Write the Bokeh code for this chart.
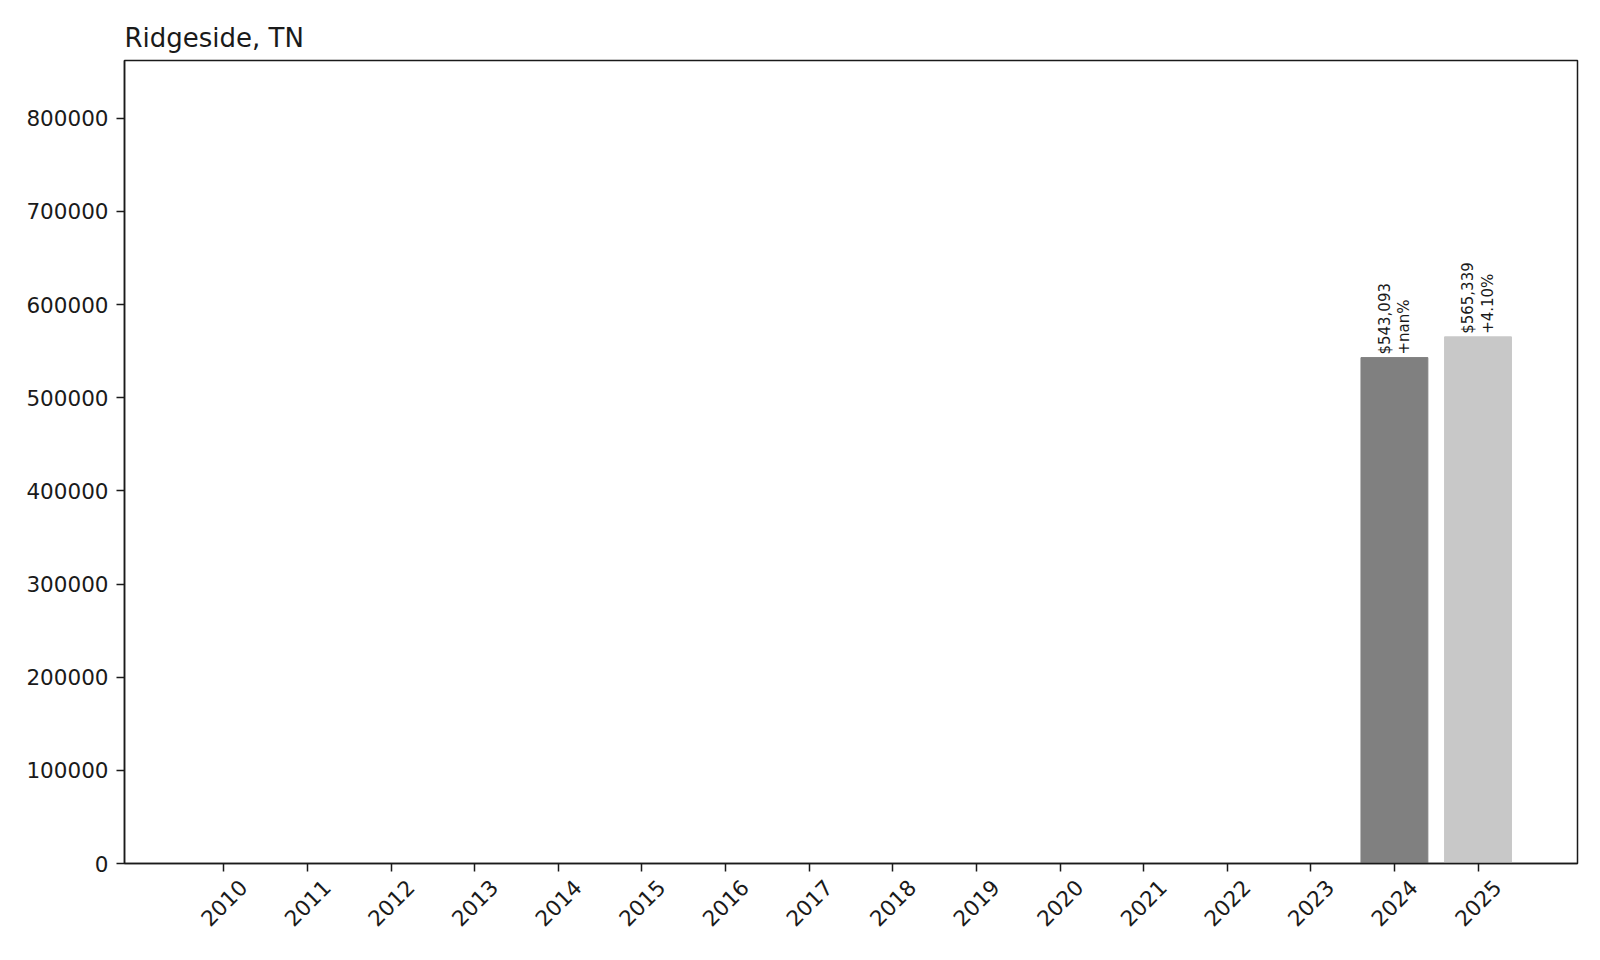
import math
from bokeh.plotting import figure
from bokeh.models import Range1d, FixedTicker, NumeralTickFormatter, ColumnDataSource, LinearAxis
from bokeh.core.properties import value
from bokeh.embed import file_html
from bokeh.resources import INLINE

years = [2010, 2011, 2012, 2013, 2014, 2015, 2016, 2017, 2018, 2019, 2020, 2021, 2022, 2023, 2024, 2025]
values = [0, 0, 0, 0, 0, 0, 0, 0, 0, 0, 0, 0, 0, 0, 543093, 565339]
colors = ["#808080"] * 15 + ["#c8c8c8"]
label_years = [2024, 2025]
label_values = [543093, 565339]
label_texts = ["$543,093\n+nan%", "$565,339\n+4.10%"]
y_ticks = [0, 100000, 200000, 300000, 400000, 500000, 600000, 700000, 800000]

FONT = "DejaVu Sans"
X0, X1 = 2008.81, 2026.19
SHIFT = 0.23

p = figure(width=1590, height=950, output_backend="svg", toolbar_location=None,
           x_range=Range1d(X0, X1), y_range=Range1d(0, 862000),
           min_border_left=124, min_border_right=13, min_border_top=60, min_border_bottom=87)

p.title.text = "Ridgeside, TN"
p.title.text_font = FONT
p.title.text_font_size = "26px"
p.title.text_font_style = "normal"
p.title.text_color = "#1a1a1a"
p.title.align = "left"
p.title.offset = 0
p.title.standoff = 16

src = ColumnDataSource(dict(x=years, top=values, color=colors))
p.vbar(x="x", top="top", bottom=0, width=0.8, color="color", source=src)

lsrc = ColumnDataSource(dict(x=label_years, y=label_values, t=label_texts))
p.text(x="x", y="y", text="t", source=lsrc, angle=math.pi / 2, text_align="left",
       text_baseline="middle", y_offset=-3, text_font=value(FONT), text_font_size="15px",
       text_color="#1a1a1a", text_line_height=1.1)

p.xgrid.visible = False
p.ygrid.visible = False
p.outline_line_color = "#1a1a1a"
p.outline_line_width = 1.5

# tick axis (labels blank)
p.xaxis.ticker = FixedTicker(ticks=years)
p.xaxis.major_label_overrides = {y: " " for y in years}
p.xaxis.major_label_standoff = 0
p.xaxis.major_label_text_font_size = "4px"
p.yaxis.ticker = FixedTicker(ticks=y_ticks)
p.yaxis.formatter = NumeralTickFormatter(format="0")
p.yaxis.major_label_standoff = 8
p.yaxis.major_label_text_font_size = "21.5px"
for ax in (p.xaxis, p.yaxis):
    ax.axis_line_color = "#1a1a1a"
    ax.axis_line_width = 1.5
    ax.major_tick_line_color = "#1a1a1a"
    ax.major_tick_line_width = 1.5
    ax.major_tick_out = 8
    ax.major_tick_in = 0
    ax.minor_tick_line_color = None
    ax.major_label_text_font = FONT
    ax.major_label_text_color = "#1a1a1a"

# label axis, shifted so the rotated labels are centred under the ticks
p.extra_x_ranges = {"lbl": Range1d(X0 - SHIFT, X1 - SHIFT)}
lbl_axis = LinearAxis(x_range_name="lbl", ticker=FixedTicker(ticks=years))
lbl_axis.axis_line_color = None
lbl_axis.major_tick_line_color = None
lbl_axis.minor_tick_line_color = None
lbl_axis.major_tick_out = 0
lbl_axis.major_tick_in = 0
lbl_axis.major_label_standoff = 4
lbl_axis.major_label_orientation = math.pi / 4
lbl_axis.major_label_text_font = FONT
lbl_axis.major_label_text_font_size = "21.5px"
lbl_axis.major_label_text_color = "#1a1a1a"
p.add_layout(lbl_axis, "below")

open("out.html", "w").write(file_html(p, INLINE))
